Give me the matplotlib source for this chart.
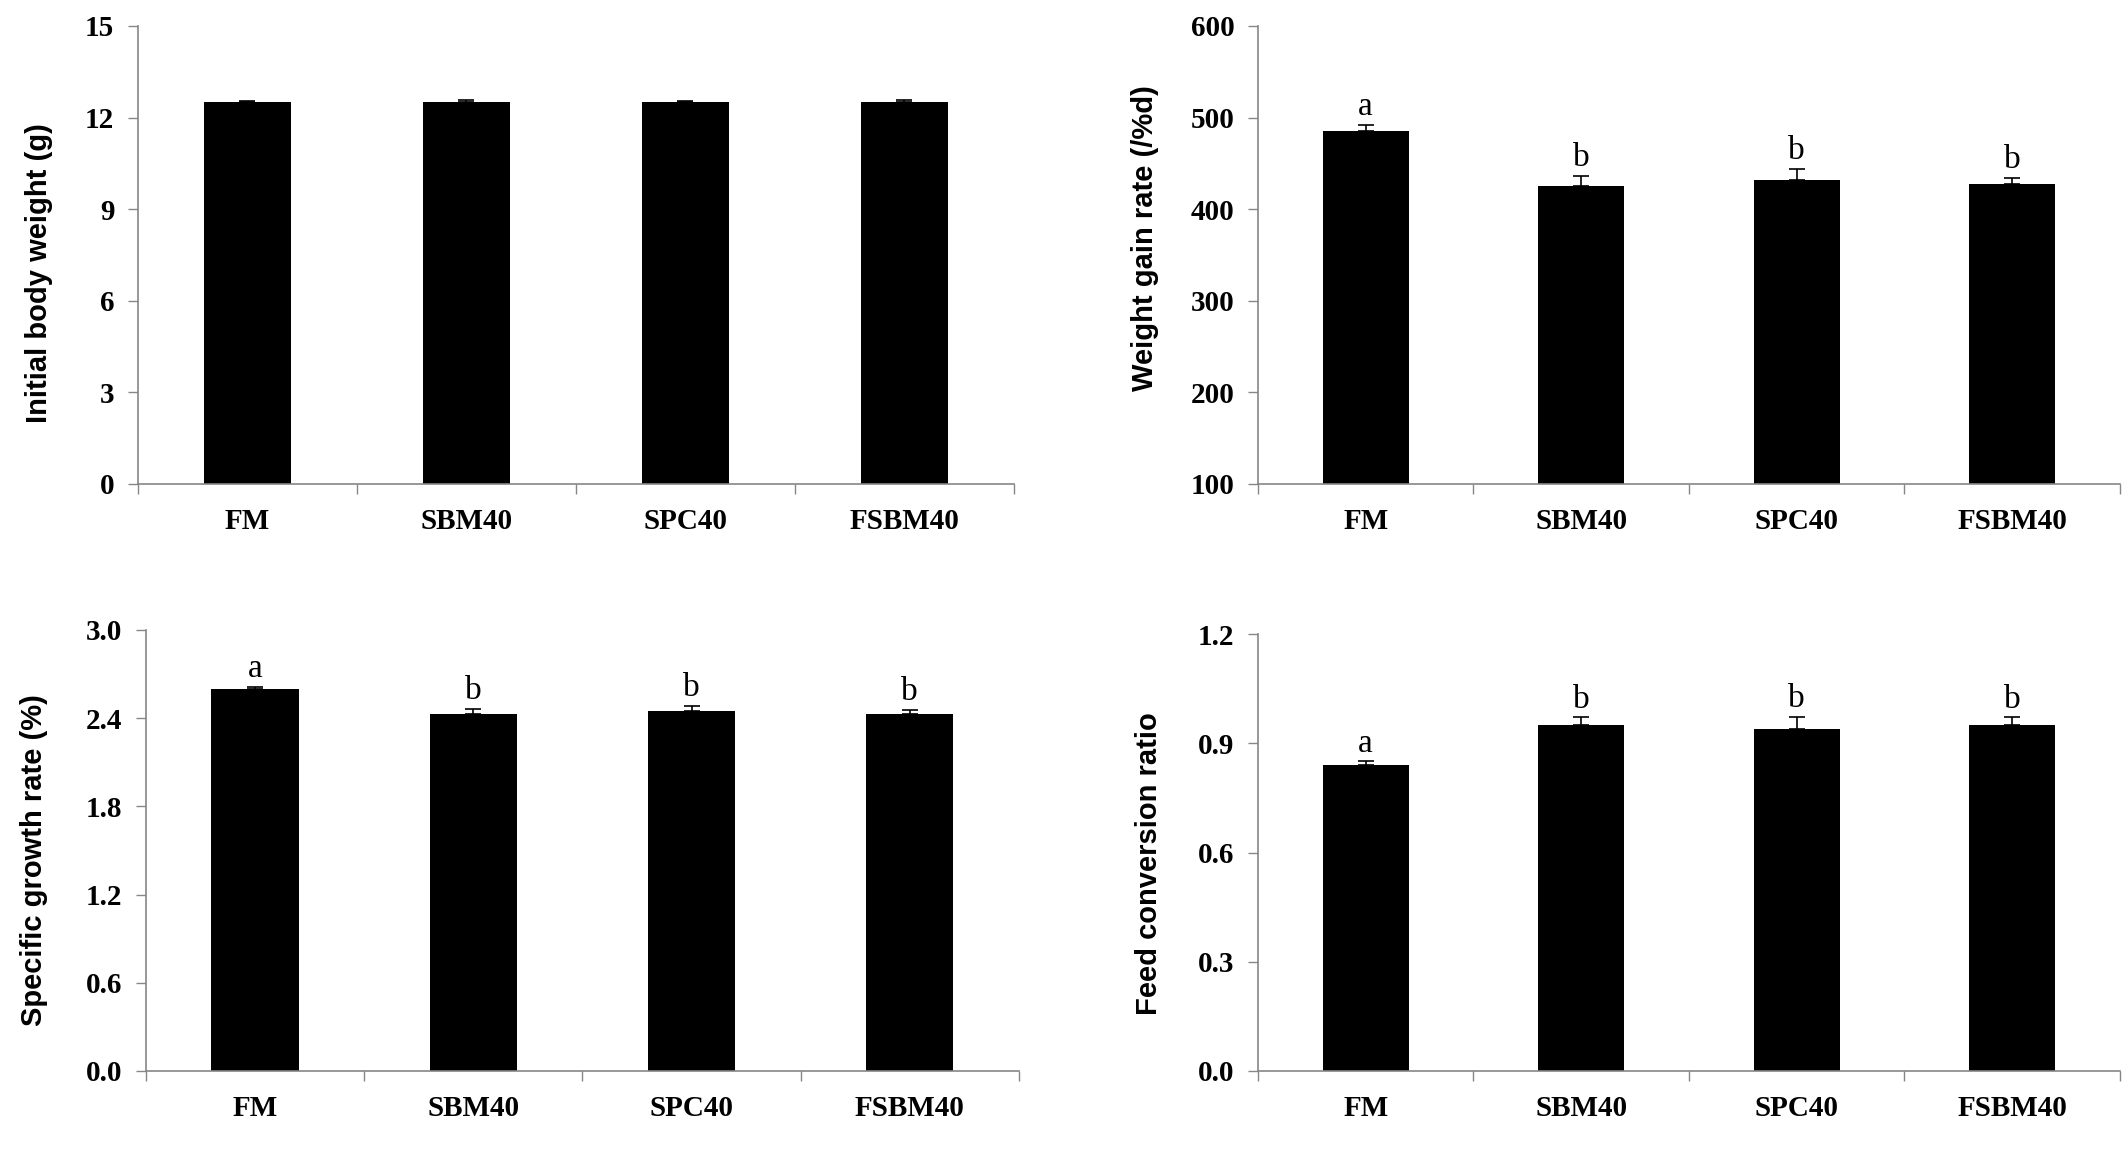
import numpy as np
import matplotlib
matplotlib.use("Agg")
import matplotlib.pyplot as plt

groups = ["FM", "SBM40", "SPC40", "FSBM40"]

ibw_mean = [12.5, 12.5, 12.5, 12.5]
ibw_err = [0.03, 0.08, 0.03, 0.08]

wgr_mean = [485, 425, 432, 427]
wgr_err = [7, 11, 12, 7]
wgr_letters = ["a", "b", "b", "b"]

sgr_mean = [2.60, 2.43, 2.45, 2.43]
sgr_err = [0.015, 0.035, 0.035, 0.028]
sgr_letters = ["a", "b", "b", "b"]

fcr_mean = [0.84, 0.95, 0.94, 0.95]
fcr_err = [0.01, 0.021, 0.033, 0.021]
fcr_letters = ["a", "b", "b", "b"]

panels = [
    # (rect, mean, err, letters, ylim, yticks, fmt, ylabel, label xy)
    ([0.0649, 0.5842, 0.4122, 0.3935], ibw_mean, ibw_err, None,
     (0, 15), [0, 3, 6, 9, 12, 15], "{:.0f}", "Initial body weight (g)", (-0.113, 0.46)),
    ([0.5920, 0.5842, 0.4056, 0.3935], wgr_mean, wgr_err, wgr_letters,
     (100, 600), [100, 200, 300, 400, 500, 600], "{:.0f}", "Weight gain rate (/%d)", (-0.131, 0.537)),
    ([0.0687, 0.0799, 0.4108, 0.3789], sgr_mean, sgr_err, sgr_letters,
     (0, 3.0), [0, 0.6, 1.2, 1.8, 2.4, 3.0], "{:.1f}", "Specific growth rate (%)", (-0.128, 0.478)),
    ([0.5920, 0.0799, 0.4056, 0.3754], fcr_mean, fcr_err, fcr_letters,
     (0, 1.2), [0, 0.3, 0.6, 0.9, 1.2], "{:.1f}", "Feed conversion ratio", (-0.126, 0.474)),
]

fig = plt.figure(figsize=(21.25, 11.64), dpi=100)
axis_gray = "#868686"
serif = ["Liberation Serif", "DejaVu Serif"]
sans = ["Liberation Sans", "DejaVu Sans"]

for rect, mean, err, letters, ylim, yticks, fmt, ylabel, lab_xy in panels:
    ax = fig.add_axes(rect)
    x = np.arange(len(groups))
    ax.bar(x, mean, width=0.4, color="black", zorder=2)
    ax.errorbar(x, mean, yerr=[np.zeros(len(err)), err], fmt="none",
                ecolor="black", elinewidth=1.2, capsize=5.5, capthick=1.2, zorder=3)
    if letters:
        for xi, m, e, lt in zip(x, mean, err, letters):
            ax.annotate(lt, (xi, m + e), xytext=(0, 2), textcoords="offset points",
                        ha="center", va="bottom", fontsize=24, family=serif)
    ax.set_xlim(-0.5, len(groups) - 0.5)
    ax.set_ylim(*ylim)
    ax.set_yticks(yticks)
    ax.set_yticklabels([fmt.format(v) for v in yticks], family=serif,
                       fontweight="bold", fontsize=21)
    # category separators as major ticks, labels on minor ticks
    ax.set_xticks(np.arange(-0.5, len(groups), 1.0))
    ax.set_xticklabels([])
    ax.set_xticks(x, minor=True)
    ax.set_xticklabels(groups, minor=True, family=serif, fontweight="bold", fontsize=21)
    ax.tick_params(axis="x", which="major", length=7, width=1, color=axis_gray, direction="out")
    ax.tick_params(axis="x", which="minor", length=0, pad=17)
    ax.tick_params(axis="y", length=7, width=1, color=axis_gray, direction="out", pad=10)
    for s in ["top", "right"]:
        ax.spines[s].set_visible(False)
    for s in ["left", "bottom"]:
        ax.spines[s].set_color(axis_gray)
        ax.spines[s].set_linewidth(1.2)
    ax.set_ylabel(ylabel, family=sans, fontweight="bold", fontsize=21, va="center")
    ax.yaxis.set_label_coords(*lab_xy)

fig.savefig("out.png", dpi=100, facecolor="white")
